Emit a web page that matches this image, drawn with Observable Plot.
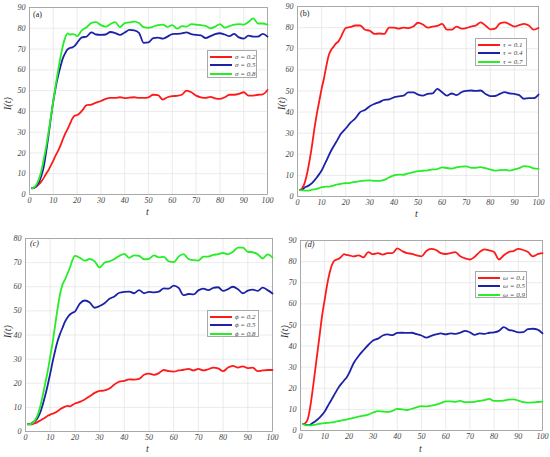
<!DOCTYPE html>
<html><head><meta charset="utf-8">
<script src="https://cdn.jsdelivr.net/npm/d3@7"></script>
<script src="https://cdn.jsdelivr.net/npm/@observablehq/plot@0.6"></script>
<style>
body{margin:0;background:#fff}
#root{position:relative;width:550px;height:457px;overflow:hidden;font-family:"Liberation Serif","DejaVu Serif",serif;background:#fff}
.p{position:absolute}
.lab{position:absolute;font-style:italic;font-size:10px;color:#333;line-height:1}
.tag{position:absolute;font-size:8px;color:#222;line-height:1}
.leg{position:absolute;border:1px solid #aaa;background:#fff;box-sizing:border-box}
.row{position:absolute;left:2px;height:8px;display:flex;align-items:center;font-style:italic;font-size:7px;color:#444;white-space:nowrap}
.sw{width:22px;height:2px;margin-right:3px}
</style></head>
<body><div id="root"></div>
<script>
// sample times
const T = [1,2,3,4,5,6,7,8,9,10,11,12,13,14,15,16,17,18,19,20,
  22,24,26,28,30,32,34,36,38,40,42,44,46,48,50,52,54,56,58,60,
  62,64,66,68,70,72,74,76,78,80,82,84,86,88,90,92,94,96,98,100];

const colors = ["#ff1a1a", "#1c22a8", "#26ee26"];

// Panel (a): sigma
const labelsA = ["σ = 0.2", "σ = 0.5", "σ = 0.8"];
const aRed = [3,3.3,4,5,6.3,8,10,11.8,14,16.3,18.8,21,23.5,26.5,29.3,31.5,34,36.5,38,38.2,
  40.2,43,43.3,44.2,45,46,46.5,46.5,46.8,46.4,46.6,46.8,46.5,46.5,46.8,48,47.8,45.7,46.8,47.3,
  47.5,48,50,49.2,47.6,46.8,46.5,47,46.3,46,46.8,48,48,48.4,49.2,47.6,47.6,48,48.2,50.3];
const aBlue = [3,3.3,4.3,6,9,13.5,20.5,28.5,37,45,51.5,57,61.5,65.5,68,69.8,70.5,70.8,71.5,73,
  75.6,76,78,77,76.8,77,78.2,77.7,76.8,78,79.2,79,77.8,73,73.2,75.3,75.5,75,76,77.2,
  77.3,77.5,78,77.2,76.8,76.6,75.3,76.2,77.2,77.6,77,76.2,77.3,75.6,75,76.5,76,76,77.3,76];
const aGreen = [3,3.5,5,7.5,11.5,17,23,30,37.5,45,52.5,59.5,66,71.5,75.5,77.5,77,77.2,77,76.2,
  79,80.5,82.6,83,81.5,80.8,82,83,80.5,82.5,82.8,83.2,82.5,80.5,80.2,80.8,81.5,81.8,80.7,81.5,
  79.8,81,80.8,82,81.7,81.5,81.2,80,80.8,82,80.3,81,81.8,82,81.8,83,84.8,82.3,82.3,81.7];

// Panel (b): tau
const labelsB = ["τ = 0.1", "τ = 0.4", "τ = 0.7"];
const bRed = [3,4,6.5,11,17,24,32,39,45,51,56,62,67,69.5,71,72.5,73.5,75.5,78,79.8,
  80.3,81,81,79,78.5,77,77.2,77,80,80,79.5,80,79.8,80.5,82.3,81.5,80,80.5,80.8,81.8,
  79,79,80.5,79.5,79.8,80.5,81,82.5,81,79.2,79.5,82,82.5,81.5,80.5,81.2,81.8,81,79,79.8];
const bBlue = [3,3.2,4.3,4.8,5.5,6.3,7.6,9,10.6,12.3,14.6,17,19.5,21.8,23.8,25.7,27.7,29.7,31,32.2,
  35,37,40,41,42.8,43.9,44.7,45.8,46,47,47.4,47.8,49.3,49.3,48.3,47.8,48.6,48.8,51,49.4,
  47.8,48.8,48,49.4,50,50.2,50,50.2,48.6,47.5,47.6,48.6,49.4,48.8,48.6,48,46.3,46.6,46.6,48.3];
const bGreen = [3,2.9,2.8,2.8,2.9,3.2,3.4,3.6,4,4.4,4.6,4.7,4.7,4.9,5.2,5.6,5.8,6,6.2,6.3,
  6.5,6.9,7.3,7.5,7.6,7.4,7.4,7.9,9,10,10.4,10.3,11,11.5,12,12.2,12.4,12.8,13,13.8,
  13.5,13.2,13.8,14.2,14.3,13.6,13.6,13.9,13.4,12.8,12.3,12.5,12.6,12.3,12.8,13.4,14.4,14.2,13.3,13.1];

// Panel (c): phi
const labelsC = ["ϕ = 0.2", "ϕ = 0.5", "ϕ = 0.8"];
const cRed = [3,3,3.1,3.5,4,4.6,5.2,5.8,6.5,7,7.4,7.8,8.4,9.2,9.8,10.3,10.6,10.4,11,11.6,
  12.3,13.3,14.6,16,16.8,17,17.8,19.5,20.7,21,21.6,21.5,21.8,23.5,24,23.5,24.2,25.5,25,24.8,
  25.3,25.6,26,25.3,26,25.3,25.8,26.5,26.2,25,26.5,27.2,26.5,27,26.3,26.5,25,25.3,25.5,25.5];
const cBlue = [3,3.2,3.8,4.5,5.8,8,11.2,15,19.3,24,29,33.5,37.5,40.5,43,45.5,47.3,48.5,49.2,49.7,
  53,54.3,53.5,51.3,52,53.2,55,56,57.5,57.9,58,57.3,58.6,57.3,57.9,57.7,58,59.3,59.2,60.5,
  59.5,56.5,57,56.8,58.5,59.2,58.6,59.5,59.8,58.3,59,60,59,57.3,58.4,58.8,58.3,59.6,58.6,57.2];
const cGreen = [3,3.1,3.6,5,7,10.5,15,20,25,31,37,44,51,57,61,63,65.5,68,71,72.8,
  72,70.8,71.5,70.5,68,70,70.5,71.5,72.8,73.6,72,73,72.8,71.4,71.6,73,72.2,72.4,70.5,70.2,
  72.5,73.5,71.5,71,70.8,72.5,72.5,73.2,73.5,74,73.5,74.5,76.2,76.2,74.5,74.3,73.5,71.7,73.4,72.1];

// Panel (d): omega
const labelsD = ["ω = 0.1", "ω = 0.5", "ω = 0.9"];
const dRed = [3,3.5,5.5,11,19,28,37,46,55,62,69,74.5,78.5,80.5,81,81.5,82.5,83.5,83.2,83,
  82.5,83,82,84.5,83.5,84,83.3,84,84,86.3,85,84,83.7,83,82.5,85,86,85.5,84,83.6,
  84,84.5,82.5,81.5,81,82.3,84.5,85.8,85.3,84.5,81,83,84.5,85,86,85.5,84.5,82.5,83.5,84];
const dBlue = [3,2.8,2.5,2.7,3.5,4.3,5.2,6.2,7.5,9,11,13,15,17,19,20.8,22.3,23.7,25,27,
  32,35.3,38,40.5,42.6,43.5,45,45.5,45.2,46.2,46.3,46.2,46.3,45.6,45,44,44.8,45.5,46,45.5,
  46,45.8,46.3,47.2,46.5,45.3,46,45.8,46.3,46.5,47.2,49,47.7,47.2,46.5,46.6,48,48.2,47.8,46];
const dGreen = [3,2.6,2.4,2.4,2.5,2.8,3,3.2,3.4,3.5,3.6,3.7,3.8,4,4.3,4.5,4.8,5,5.2,5.5,
  6,6.6,7,7.5,8.5,9.2,9,8.8,9.3,10.2,10,9.7,10.3,11,11.5,11.4,11.8,12.3,13,13.8,
  13.8,13.6,14,13.4,13.4,13.6,14,14.4,15,14,14,14.2,14.6,14.7,14.2,13.4,13.2,13.3,13.5,13.7];

const xTicks = [0,10,20,30,40,50,60,70,80,90,100];

const root = document.getElementById("root");

function table(seriesList, labels) {
  const rows = [];
  seriesList.forEach((vals, i) => vals.forEach((v, j) => rows.push({t: T[j], v, s: labels[i]})));
  return rows;
}

function panel(cfg) {
  const data = table(cfg.series, cfg.labels);
  const yTicks = d3.range(0, cfg.ymax + 1, 10);
  const chart = Plot.plot({
    width: cfg.w, height: cfg.h,
    marginLeft: cfg.m[3], marginRight: cfg.m[1], marginTop: cfg.m[0], marginBottom: cfg.m[2],
    style: {fontFamily: '"Liberation Serif", serif', fontSize: "8px", color: "#444", background: "transparent", overflow: "visible"},
    x: {domain: [0, 100], ticks: xTicks, label: null},
    y: {domain: [0, cfg.ymax], ticks: yTicks, label: null},
    color: {domain: cfg.labels, range: colors},
    marks: [
      Plot.gridX(xTicks, {stroke: "#e2e2e2", strokeOpacity: 1, strokeWidth: 0.7}),
      Plot.gridY(yTicks, {stroke: "#e2e2e2", strokeOpacity: 1, strokeWidth: 0.7}),
      Plot.frame({stroke: "#9a9a9a", strokeWidth: 0.8}),
      Plot.axisX(xTicks, {tickSize: 0, tickPadding: 3, fontStyle: "italic"}),
      Plot.axisY(yTicks, {tickSize: 0, tickPadding: 4, fontStyle: "italic"}),
      Plot.line(data, {x: "t", y: "v", z: "s", stroke: "s", strokeWidth: 1.8, curve: "monotone-x"})
    ]
  });
  chart.classList.add("p");
  chart.style.left = cfg.left + "px";
  chart.style.top = cfg.top + "px";
  root.appendChild(chart);

  // panel tag
  const tag = document.createElement("div");
  tag.className = "tag";
  tag.textContent = cfg.tag;
  if (cfg.tagItalic) tag.style.fontStyle = "italic";
  tag.style.left = cfg.tagPos[0] + "px"; tag.style.top = cfg.tagPos[1] + "px";
  root.appendChild(tag);

  // axis labels
  const xl = document.createElement("div");
  xl.className = "lab"; xl.textContent = "t";
  xl.style.left = cfg.xl[0] + "px"; xl.style.top = cfg.xl[1] + "px";
  root.appendChild(xl);
  const yl = document.createElement("div");
  yl.className = "lab"; yl.textContent = "I(t)";
  yl.style.left = cfg.yl[0] + "px"; yl.style.top = cfg.yl[1] + "px";
  yl.style.transform = "rotate(-90deg)"; yl.style.transformOrigin = "0 0";
  root.appendChild(yl);

  // legend
  const leg = document.createElement("div");
  leg.className = "leg";
  leg.style.left = cfg.leg[0] + "px"; leg.style.top = cfg.leg[1] + "px";
  leg.style.width = cfg.leg[2] + "px"; leg.style.height = cfg.leg[3] + "px";
  cfg.labels.forEach((l, i) => {
    const r = document.createElement("div");
    r.className = "row";
    r.style.top = (1.5 + i * 8.5) + "px";
    const sw = document.createElement("div");
    sw.className = "sw"; sw.style.background = colors[i];
    const tx = document.createElement("span");
    tx.textContent = l;
    r.appendChild(sw); r.appendChild(tx);
    leg.appendChild(r);
  });
  root.appendChild(leg);
}

panel({series: [aRed, aBlue, aGreen], labels: labelsA, ymax: 90,
  left: 0, top: 0, w: 275, h: 220, m: [7, 8, 26, 29],
  tag: "(a)", tagPos: [33, 11], xl: [146, 207], yl: [3, 110], leg: [207, 50, 50, 28]});
panel({series: [bRed, bBlue, bGreen], labels: labelsB, ymax: 90,
  left: 275, top: 0, w: 275, h: 220, m: [6, 12, 24, 22],
  tag: "(b)", tagPos: [300, 10], xl: [415, 209], yl: [277, 110], leg: [475, 38, 52, 28]});
panel({series: [cRed, cBlue, cGreen], labels: labelsC, ymax: 80,
  left: 0, top: 228, w: 275, h: 229, m: [10, 3, 26, 25],
  tag: "(c)", tagItalic: true, tagPos: [30, 240], xl: [146, 444], yl: [3, 338], leg: [207, 310, 52, 27]});
panel({series: [dRed, dBlue, dGreen], labels: labelsD, ymax: 90,
  left: 275, top: 228, w: 275, h: 229, m: [12, 8, 27, 25],
  tag: "(d)", tagItalic: true, tagPos: [305, 241], xl: [419, 444], yl: [280, 338], leg: [475, 271, 52, 27]});
</script></body></html>
